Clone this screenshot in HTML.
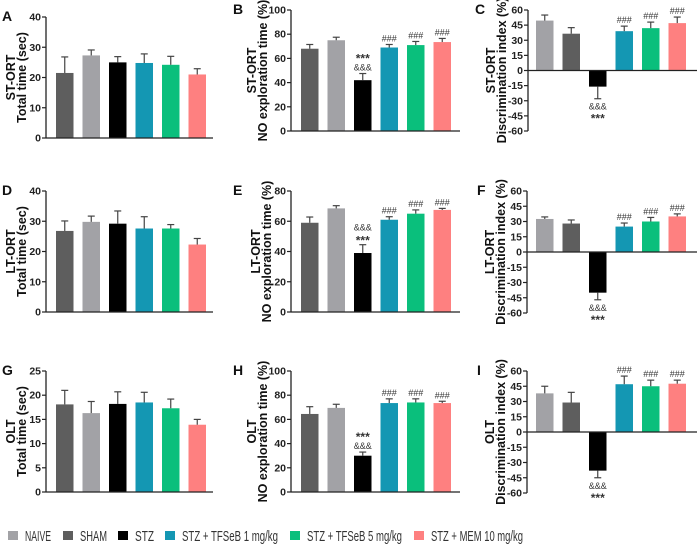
<!DOCTYPE html>
<html><head><meta charset="utf-8"><style>
html,body{margin:0;padding:0;background:#fff;}
svg{display:block;font-family:"Liberation Sans",Arial,sans-serif;}
</style></head><body>
<svg id="fig" width="697" height="545" viewBox="0 0 697 545" xmlns="http://www.w3.org/2000/svg"></svg>
<script>
const groups = ["NAIVE","SHAM","STZ","STZ + TFSeB 1 mg/kg","STZ + TFSeB 5 mg/kg","STZ + MEM 10 mg/kg"];
const colorNaive = "#a2a2a6", colorSham = "#5e5e5e";
const colA = [colorSham, colorNaive, "#000000", "#1497b3", "#0abf7c", "#fe8080"];
const colC = [colorNaive, colorSham, "#000000", "#1497b3", "#0abf7c", "#fe8080"];

const valsA = [21.5,27.3,25.0,24.8,24.2,21.0], errA = [5.3,1.8,1.9,3.0,2.8,1.9];
const valsB = [68,75,42,69,71,73.5], errB = [3.5,2.5,5.5,2.5,3,3];
const valsC = [49.5,36.5,-16,39,42,47], errC = [5.5,6,12,5,6,6];
const valsD = [26.8,29.8,29.2,27.6,27.6,22.3], errD = [3.3,1.9,4.2,3.9,1.3,2.0];
const valsE = [59,68.5,39,61,65,67.5], errE = [3.8,1.8,5.5,2,2.5,1];
const valsF = [32.5,28,-40,25,30,35], errF = [2,3.5,7,3.5,4,2.5];
const valsG = [18.1,16.3,18.2,18.5,17.3,13.9], errG = [2.9,2.4,2.5,2.1,1.9,1.1];
const valsH = [64.5,69.5,30,73.5,74,73.5], errH = [6,3,3,3.5,3,1.5];
const valsI = [38,29,-38,47,45,47.5], errI = [7,10,7,8,6,3.5];

const ticks40 = [0,10,20,30,40], ticks100 = [0,20,40,60,80,100], ticks80 = [0,20,40,60,80];
const ticksDI = [-60,-45,-30,-15,0,15,30,45,60], ticks25 = [0,5,10,15,20,25];

const svg = document.getElementById('fig');
const NS = "http://www.w3.org/2000/svg";
function mk(tag, attrs, parent){ const e=document.createElementNS(NS,tag); for(const k in attrs) e.setAttribute(k,attrs[k]); (parent||svg).appendChild(e); return e; }
function txt(s, attrs, parent){ const e=mk('text',attrs,parent); e.textContent=s; return e; }

function panel(p){
  const g = mk('g',{});
  
  
  const min=p.ticks[0], max=p.ticks[p.ticks.length-1];
  const y = v => p.bottom - (v-min)/(max-min)*(p.bottom-p.top);
  const bx = i => p.ax + p.off + i*26.5;
  const bw = 17.5;
  const L = txt(p.letter,{x:p.lx,y:p.top+4,'font-size':14,'font-weight':'bold',fill:'#111'},g);
  
  
  const ya = mk('line',{x1:p.ax,y1:p.top,x2:p.ax,y2:p.bottom,stroke:'#222','stroke-width':1.3},g);
  
  
  p.ticks.forEach(t=>{
    mk('line',{x1:p.ax-4,y1:y(t),x2:p.ax,y2:y(t),stroke:'#222','stroke-width':1.2},g);
    const tl = txt(String(t),{x:p.ax-5,y:y(t)+3.5,'font-size':10.5,'font-weight':'bold','text-anchor':'end',fill:'#222'},g);
    
    
  });
  const cy=(p.top+p.bottom)/2;
  const t1 = txt(p.t1,{x:0,y:0,'font-size':12.5,'font-weight':'bold','text-anchor':'middle',fill:'#111',transform:`translate(${p.ax+p.o1},${cy}) rotate(-90)`},g);
  
  
  const t2 = txt(p.t2,{x:0,y:0,'font-size':12.5,'font-weight':'bold','text-anchor':'middle',fill:'#111',transform:`translate(${p.ax+p.o2},${cy}) rotate(-90)`},g);
  
  
  const zero = y(Math.max(0,min));
  p.vals.forEach((v,i)=>{
    const x=bx(i), yv=y(v);
    const top=Math.min(yv,zero), h=Math.abs(yv-zero);
    const r = mk('rect',{x:x,y:top,width:bw,height:h,fill:p.cols[i]},g);
    
    
    const e=p.err[i], cx=x+bw/2;
    const ye = v>=0 ? y(v+e) : y(v-e);
    mk('line',{x1:cx,y1:yv,x2:cx,y2:ye,stroke:'#444','stroke-width':1.2},g);
    mk('line',{x1:cx-3.5,y1:ye,x2:cx+3.5,y2:ye,stroke:'#444','stroke-width':1.2},g);
    const ann = p.ann[i];
    ann.forEach((s,k)=>{
      let yy;
      if(v>=0) yy = ye - 3 - (ann.length-1-k)*11;
      else yy = ye + 11 + k*13;
      const a = txt(s,{x:cx,y:yy+(s==='***'&&v>=0?3:0),'font-size':s==='***'?12:9,'font-weight':s==='***'?'bold':'normal','text-anchor':'middle',fill:'#333'},g);
      
      
    });
  });
  const xa = mk('line',{x1:p.ax,y1:zero,x2:p.xend,y2:zero,stroke:'#222','stroke-width':1.3},g);
  
  
}
const annNO = [[],[],["***","&&&"],["###"],["###"],["###"]];
const annNOE = [[],[],["&&&","***"],["###"],["###"],["###"]];
const annDI = [[],[],["&&&","***"],["###"],["###"],["###"]];
const none = [[],[],[],[],[],[]];

panel({letter:'A',lx:2,ax:46,top:17,bottom:138,xend:213,off:10,ticks:ticks40,vals:valsA,err:errA,cols:colA,ann:none,t1:'ST-ORT',t2:'Total time (sec)',o1:-31,o2:-20});
panel({letter:'B',lx:233,ax:291,top:10,bottom:131,xend:460,off:10,ticks:ticks100,vals:valsB,err:errB,cols:colA,ann:annNO,t1:'ST-ORT',t2:'NO exploration time (%)',o1:-35,o2:-24});
panel({letter:'C',lx:475,ax:528,top:10,bottom:131,xend:697,off:8,ticks:ticksDI,vals:valsC,err:errC,cols:colC,ann:annDI,t1:'ST-ORT',t2:'Discrimination index (%)',o1:-33,o2:-22});
panel({letter:'D',lx:2,ax:46,top:191,bottom:312,xend:213,off:10,ticks:ticks40,vals:valsD,err:errD,cols:colA,ann:none,t1:'LT-ORT',t2:'Total time (sec)',o1:-31,o2:-20});
panel({letter:'E',lx:233,ax:291,top:191,bottom:312,xend:460,off:10,ticks:ticks80,vals:valsE,err:errE,cols:colA,ann:annNOE,t1:'LT-ORT',t2:'NO exploration time (%)',o1:-31,o2:-20});
panel({letter:'F',lx:477,ax:527,top:191,bottom:313,xend:697,off:9,ticks:ticksDI,vals:valsF,err:errF,cols:colC,ann:annDI,t1:'LT-ORT',t2:'Discrimination index (%)',o1:-33,o2:-22});
panel({letter:'G',lx:2,ax:46,top:371,bottom:492,xend:213,off:10,ticks:ticks25,vals:valsG,err:errG,cols:colA,ann:none,t1:'OLT',t2:'Total time (sec)',o1:-31,o2:-20});
panel({letter:'H',lx:233,ax:291,top:371,bottom:492,xend:460,off:10,ticks:ticks100,vals:valsH,err:errH,cols:colA,ann:annNO,t1:'OLT',t2:'NO exploration time (%)',o1:-35,o2:-24});
panel({letter:'I',lx:477,ax:527,top:371,bottom:493,xend:697,off:9,ticks:ticksDI,vals:valsI,err:errI,cols:colC,ann:annDI,t1:'OLT',t2:'Discrimination index (%)',o1:-33,o2:-22});

const legX = [8,63,118,165,290,414];
const legW = [26,27,19,96,95,92];
const legCols = [colorNaive,colorSham,"#000000","#1497b3","#0abf7c","#fe8080"];
const lg = mk('g',{});


groups.forEach((n,i)=>{
  const gi = mk('g',{},lg);
  
  
  mk('rect',{x:legX[i],y:531,width:10,height:9,fill:legCols[i]},gi);
  txt(n,{x:legX[i]+17,y:541,'font-size':14.5,fill:'#333',textLength:legW[i],lengthAdjust:'spacingAndGlyphs'},gi);
});
</script>
</body></html>
